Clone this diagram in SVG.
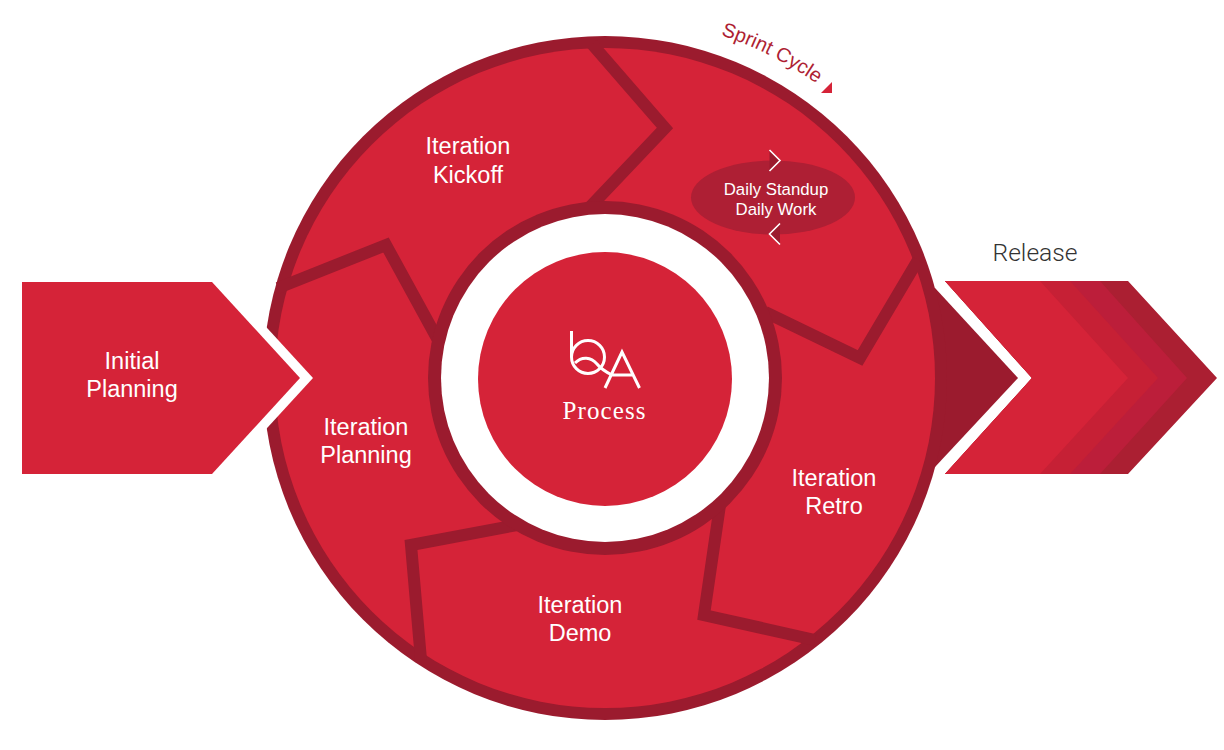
<svg xmlns="http://www.w3.org/2000/svg" width="1224" height="750" viewBox="0 0 1224 750">
<style>
.lbl{font-family:"Liberation Sans",Arial,sans-serif;fill:#fff;text-anchor:middle;font-size:23.5px}
.small{font-size:16.8px}
.sep{fill:none;stroke:#9B1B2E;stroke-width:12;stroke-linejoin:miter;stroke-miterlimit:10}
.chev{fill:#9B1B2E;stroke:none}
.chevl{fill:none;stroke:#fff;stroke-width:1.6}
.logo{fill:none;stroke:#fff;stroke-width:3}
</style>
<rect width="1224" height="750" fill="#fff"/>
<g id="cycle">
<polygon points="925,288 935,288 1018,378 935,467 925,467" fill="#9B1B2E"/>
<circle cx="605" cy="378" r="342" fill="#9B1B2E"/>
<circle cx="605" cy="378" r="330" fill="#D52338"/>
</g>
<g id="connectors">
<polyline class="sep" points="592,44 665,128 590,207"/>
<polyline class="sep" points="278,288 386,245 438,340"/>
<polyline class="sep" points="517,525 411,545 421,660"/>
<polyline class="sep" points="720,505 704,615 815,640"/>
<polyline class="sep" points="918,260 860,358 765,312"/>
</g>
<g id="initial-planning">
<polygon points="225,282 313,378 225,474" fill="#fff"/>
<polygon points="22,282 212,282 300,378 212,474 22,474" fill="#D52338"/>
<text class="lbl" x="132" y="369">Initial</text>
<text class="lbl" x="132" y="397">Planning</text>
</g>
<g id="core">
<circle cx="605" cy="378" r="177" fill="#9B1B2E"/>
<circle cx="605" cy="378" r="164" fill="#fff"/>
<circle cx="605" cy="379" r="127" fill="#D52338"/>
<g id="logo">
<path class="logo" d="M571.500,331V357A16.500,16.500 0 1 0 588,340.500A16.500,16.500 0 0 0 571.500,357"/>
<path class="logo" d="M575,363C582,356 591,357 597,364C601,369 606,372 612,375"/>
<path class="logo" d="M605,388L622,352L639.500,388M612,375H633"/>
</g>
<text x="604" y="419" font-family="'Liberation Serif',serif" font-size="25" fill="#fff" text-anchor="middle" textLength="83" lengthAdjust="spacing">Process</text>
</g>
<g id="iteration-kickoff"><text class="lbl" x="468" y="154">Iteration</text><text class="lbl" x="468" y="183">Kickoff</text></g>
<g id="iteration-planning"><text class="lbl" x="366" y="435">Iteration</text><text class="lbl" x="366" y="463">Planning</text></g>
<g id="iteration-demo"><text class="lbl" x="580" y="613">Iteration</text><text class="lbl" x="580" y="641">Demo</text></g>
<g id="iteration-retro"><text class="lbl" x="834" y="486">Iteration</text><text class="lbl" x="834" y="514">Retro</text></g>
<g id="daily">
<ellipse cx="773" cy="197.500" rx="82" ry="37" fill="#AE1F34"/>
<polygon class="chev" points="769.500,150 780,160.500 769.500,171"/>
<polyline class="chevl" points="769.500,150 780,160.500 769.500,171"/>
<polygon class="chev" points="780,223.500 769.500,234 780,244.500"/>
<polyline class="chevl" points="780,223.500 769.500,234 780,244.500"/>
<text class="lbl small" x="776" y="195">Daily Standup</text>
<text class="lbl small" x="776" y="215">Daily Work</text>
</g>
<g id="sprint-cycle">
<path id="arc" d="M716,33.500A362.500,362.500 0 0 1 830,93.500" fill="none"/>
<text font-family="'Liberation Sans',Arial,sans-serif" font-size="20" fill="#AE1F34"><textPath href="#arc" startOffset="5">Sprint Cycle</textPath></text>
<polygon points="821,93 832,93 832,82" fill="#D52338"/>
</g>
<g id="release">
<polygon points="945,281 1128,281 1217,378 1128,474 945,474 1032,378" fill="#AB1F32"/>
<polygon points="945,281 1100,281 1187,378 1100,474 945,474 1032,378" fill="#BC1E3A"/>
<polygon points="945,281 1070,281 1158,378 1070,474 945,474 1032,378" fill="#C62035"/>
<polygon points="945,281 1040,281 1128,378 1040,474 945,474 1032,378" fill="#D52338"/>
<text x="1035" y="261" font-family="Roboto,'Liberation Sans',sans-serif" font-weight="300" font-size="24.600" fill="#333" text-anchor="middle">Release</text>
</g>
</svg>
